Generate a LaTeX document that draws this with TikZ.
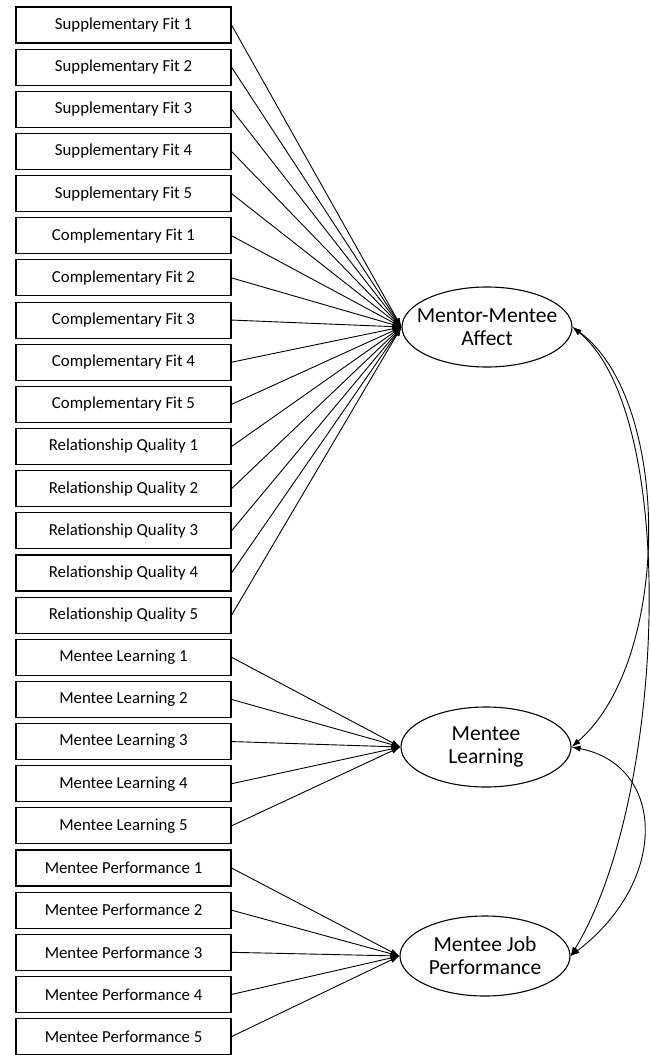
\documentclass[tikz,border=0pt]{standalone}
\usepackage{fontspec}
\setmainfont{Carlito}
\usetikzlibrary{arrows.meta,shapes.geometric}
\begin{document}
\begin{tikzpicture}[x=1pt,y=-1pt,
  item/.style={draw, line width=1.1pt, minimum width=215pt, minimum height=36pt,
    inner sep=0pt, font=\fontsize{16.8}{19}\selectfont},
  latent/.style={draw, ellipse, line width=1.1pt, minimum width=170pt,
    minimum height=80pt, inner xsep=-12pt, inner ysep=0pt, align=center,
    font=\fontsize{21.5}{23}\selectfont},
  load/.style={line width=0.9pt, -{Latex[length=9pt,width=6pt]}},
  cov/.style={line width=0.9pt,
    {Latex[length=9pt,width=6pt]}-{Latex[length=9pt,width=6pt]}}]
\useasboundingbox (0,0) rectangle (649,1055);

% observed indicators
\foreach \t [count=\i] in {
  Supplementary Fit 1, Supplementary Fit 2, Supplementary Fit 3,
  Supplementary Fit 4, Supplementary Fit 5,
  Complementary Fit 1, Complementary Fit 2, Complementary Fit 3,
  Complementary Fit 4, Complementary Fit 5,
  Relationship Quality 1, Relationship Quality 2, Relationship Quality 3,
  Relationship Quality 4, Relationship Quality 5,
  Mentee Learning 1, Mentee Learning 2, Mentee Learning 3,
  Mentee Learning 4, Mentee Learning 5,
  Mentee Performance 1, Mentee Performance 2, Mentee Performance 3,
  Mentee Performance 4, Mentee Performance 5}
  \node[item] (b\i) at (123.5, {25+(\i-1)*42.15}) {\t};

% latent constructs
\node[latent] (aff)  at (487,327) {Mentor-Mentee\\Affect};
\node[latent] (lrn)  at (486,747) {Mentee\\Learning};
\node[latent] (perf) at (485,956) {Mentee Job\\Performance};

% loadings
\foreach \i in {1,...,15} \draw[load] (b\i.east) -- (aff.west);
\foreach \i in {16,...,20} \draw[load] (b\i.east) -- (lrn.west);
\foreach \i in {21,...,25} \draw[load] (b\i.east) -- (perf.west);

% covariances
\draw[cov] (aff.east) .. controls (672,400) and (672,660) .. (lrn.east);
\draw[cov] (aff.east) .. controls (680,415) and (666,800) .. (perf.east);
\draw[cov] (lrn.east) .. controls (665,765) and (670,880) .. (perf.east);
\end{tikzpicture}
\end{document}
